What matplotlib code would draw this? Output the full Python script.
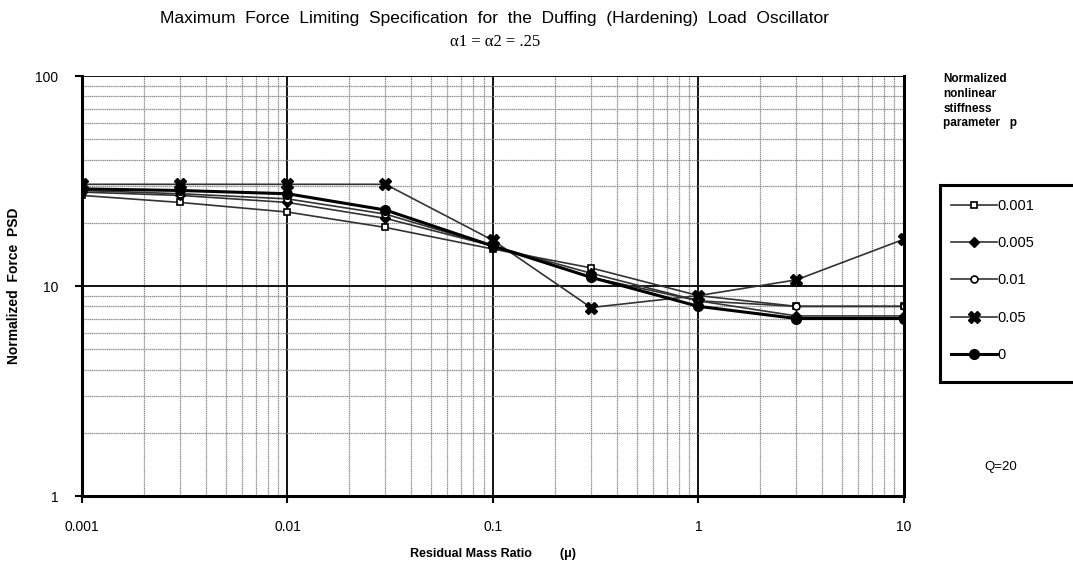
import matplotlib.pyplot as plt
from matplotlib.patches import Rectangle
from matplotlib.ticker import LogLocator, NullFormatter, FixedLocator, FixedFormatter

# residual mass ratio
mu = [0.001, 0.003, 0.01, 0.03, 0.1, 0.3, 1, 3, 10]

# normalized force PSD per nonlinear stiffness parameter p
p_0001 = [27, 25, 22.5, 19, 15, 12.2, 9, 8, 8]
p_0005 = [28, 27, 25, 21, 15.5, 11.5, 8.5, 7.2, 7.2]
p_001 = [28.5, 27.5, 26, 22, 15.5, 11, 8.5, 8, 8]
p_005 = [30.5, 30.5, 30.5, 30.5, 16.5, 7.9, 9, 10.7, 16.7]
p_0 = [29, 28.5, 27.5, 23, 15.5, 11, 8, 7, 7]

labels = ['0.001', '0.005', '0.01', '0.05', '0']

x_ticks = [0.001, 0.01, 0.1, 1, 10]
x_ticklabels = ['0.001', '0.01', '0.1', '1', '10']
y_ticks = [1, 10, 100]
y_ticklabels = ['1', '10', '100']

plt.rcParams['font.family'] = ['Liberation Sans', 'DejaVu Sans']

fig = plt.figure(figsize=(10.73, 5.63), dpi=100)
ax = fig.add_axes([0.0764, 0.119, 0.766, 0.746])
ax.set_xscale('log')
ax.set_yscale('log')
ax.set_xlim(0.001, 10)
ax.set_ylim(1, 100)

ax.xaxis.set_minor_locator(LogLocator(base=10, subs=range(2, 10)))
ax.yaxis.set_minor_locator(LogLocator(base=10, subs=range(2, 10)))
ax.xaxis.set_minor_formatter(NullFormatter())
ax.yaxis.set_minor_formatter(NullFormatter())
ax.grid(which='minor', color='#8a8a8a', lw=0.9, ls=(0, (1, 0.5)))
ax.grid(which='major', color='#111111', lw=1.4)
ax.set_axisbelow(True)

grey = '#333333'
ax.plot(mu, p_0001, color=grey, lw=1.2, marker='s', ms=5, mfc='white', mec='black', mew=1.2)
ax.plot(mu, p_0005, color=grey, lw=1.2, marker='D', ms=5, mfc='black', mec='black')
ax.plot(mu, p_001, color=grey, lw=1.2, marker='o', ms=5, mfc='white', mec='black', mew=1.2)
ax.plot(mu, p_005, color=grey, lw=1.2, marker='X', ms=9, mfc='black', mec='black')
ax.plot(mu, p_0, color='black', lw=2.2, marker='o', ms=7, mfc='black', mec='black')

ax.xaxis.set_major_locator(FixedLocator(x_ticks))
ax.xaxis.set_major_formatter(FixedFormatter(x_ticklabels))
ax.yaxis.set_major_locator(FixedLocator(y_ticks))
ax.yaxis.set_major_formatter(FixedFormatter(y_ticklabels))
ax.tick_params(which='major', length=5, width=1.5, labelsize=10, pad=12)
ax.tick_params(which='minor', length=0)

for s in ['left', 'bottom', 'right']:
    ax.spines[s].set_linewidth(2.2)
ax.spines['top'].set_visible(False)

ax.set_xlabel('Residual Mass Ratio        (\u03bc)', fontsize=9, fontweight='bold', labelpad=10)
ax.set_ylabel('Normalized  Force  PSD', fontsize=10, fontweight='bold', labelpad=10)

fig.text(0.461, 0.968, 'Maximum  Force  Limiting  Specification  for  the  Duffing  (Hardening)  Load  Oscillator',
         ha='center', va='center', fontsize=12.5)
fig.text(0.461, 0.925, '\u03b11 = \u03b12 = .25', ha='center', va='center', fontsize=12,
         family=['Liberation Serif', 'DejaVu Serif'])

fig.text(0.879, 0.820, 'Normalized\nnonlinear\nstiffness\nparameter   p', ha='left', va='center',
         fontsize=8.5, fontweight='bold', linespacing=1.3)
fig.text(0.933, 0.17, 'Q=20', ha='center', va='center', fontsize=9.5)

fig.patches.append(Rectangle((0.876, 0.321), 0.2, 0.350, transform=fig.transFigure,
                             facecolor='white', edgecolor='black', lw=2.2, zorder=1))
handles = ax.get_lines()
leg = fig.legend(handles, labels, loc='upper left', bbox_to_anchor=(0.882, 0.655),
                 frameon=False, fontsize=10.5, handlelength=3.2, handletextpad=0.0,
                 labelspacing=1.6, borderpad=0.3, borderaxespad=0)
leg.set_zorder(2)

fig.savefig('out.png', dpi=100)
